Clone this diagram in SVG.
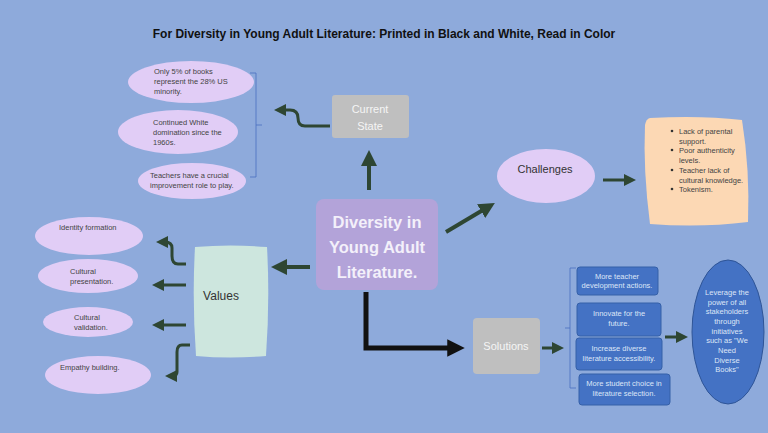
<svg xmlns="http://www.w3.org/2000/svg" width="768" height="433" viewBox="0 0 768 433">
<defs>
<marker id="ah" viewBox="0 0 10 10" refX="5" refY="5" markerWidth="4" markerHeight="4" orient="auto"><path d="M0,0 L10,5 L0,10 z" fill="#2e4633"/></marker>
<marker id="ahk" viewBox="0 0 10 10" refX="5" refY="5" markerWidth="3.5" markerHeight="3.5" orient="auto"><path d="M0,0 L10,5 L0,10 z" fill="#111"/></marker>
<style>
text{font-family:"Liberation Sans","Open Sans",sans-serif}
.el{fill:#e1cdf6}
.et{font-size:7.5px;fill:#444}
.con{stroke:#2e4633;stroke-width:4;fill:none;marker-end:url(#ah)}
.con2{stroke:#2e4633;stroke-width:3;fill:none;marker-end:url(#ah)}
.br{stroke:#4a6fc0;stroke-width:0.8;fill:none}
.bb{fill:#4472c4;stroke:#3560a8;stroke-width:1}
.bt{font-size:7.5px;fill:#dde6f7;text-anchor:middle}
</style>
</defs>
<rect width="768" height="433" fill="#8eaadb"/>
<text x="384" y="38" text-anchor="middle" font-size="12" font-weight="bold" fill="#111">For Diversity in Young Adult Literature: Printed in Black and White, Read in Color</text>
<g id="connectors">
<path class="con" d="M369,190 V158"/>
<path class="con2" d="M330,126 H305 Q298,126 298,118 Q298,110 290,110 H280"/>
<path class="br" d="M250,73 H256 V177 H250 M256,125 H262"/>
<path class="con" d="M446,232 L488,207"/>
<path class="con2" d="M603,180 H630"/>
<path class="con" d="M310,267 H279"/>
<path class="con2" d="M186,264 H178 Q172,264 172,256 V248 Q172,242 165,242 H162"/>
<path class="con2" d="M186,285 H158"/>
<path class="con2" d="M186,325 H158"/>
<path class="con2" d="M190,345 H182 Q177,345 177,352 V372 Q177,376 172,376 H171"/>
<path d="M366,292 V348 H456" stroke="#111" stroke-width="5" fill="none" marker-end="url(#ahk)"/>
<path class="con2" d="M542,348 H558"/>
<path class="br" d="M576,268 H570 V388 H576 M570,328 H565"/>
<path class="con2" d="M665,337 H682"/>
</g>
<g id="center"><rect x="316" y="199" width="122" height="91" rx="8" fill="#b3a3d9"/>
<text x="377" y="228" text-anchor="middle" font-size="16.5" font-weight="bold" fill="#f3f0fa">Diversity in</text>
<text x="377" y="253" text-anchor="middle" font-size="16.5" font-weight="bold" fill="#f3f0fa">Young Adult</text>
<text x="377" y="278" text-anchor="middle" font-size="16.5" font-weight="bold" fill="#f3f0fa">Literature.</text></g>
<g id="current"><rect x="332" y="95" width="77" height="43" rx="3" fill="#bfbfbf"/>
<text x="370" y="113" text-anchor="middle" font-size="11" fill="#f5f5f5">Current</text>
<text x="370" y="130" text-anchor="middle" font-size="11" fill="#f5f5f5">State</text></g>
<g id="cs1"><ellipse class="el" cx="191" cy="82" rx="63" ry="21"/>
<text class="et" x="154" y="74">Only 5% of books</text><text class="et" x="154" y="84">represent the 28% US</text><text class="et" x="154" y="94">minority.</text></g>
<g id="cs2"><ellipse class="el" cx="178" cy="132" rx="60" ry="22"/>
<text class="et" x="153" y="125">Continued White</text><text class="et" x="153" y="135">domination since the</text><text class="et" x="153" y="145">1960s.</text></g>
<g id="cs3"><ellipse class="el" cx="192" cy="181" rx="54" ry="18"/>
<text class="et" x="150" y="178">Teachers have a crucial</text><text class="et" x="150" y="188">improvement role to play.</text></g>
<g id="challenges"><ellipse cx="546" cy="176" rx="49" ry="27" fill="#e1cdf6"/>
<text x="545" y="173" text-anchor="middle" font-size="11" fill="#333">Challenges</text></g>
<g id="challenge-list"><path d="M650,118 Q700,115 742,120 Q750,170 748,222 Q700,228 650,224 Q643,170 645,125 Q646,119 650,118 z" fill="#fcd8b4"/>
<g font-size="7.5" fill="#444"><circle cx="672" cy="131" r="1.3" fill="#333"/><text x="679" y="134">Lack of parental</text><text x="679" y="144">support.</text>
<circle cx="672" cy="150" r="1.3" fill="#333"/><text x="679" y="153">Poor authenticity</text><text x="679" y="163">levels.</text>
<circle cx="672" cy="170" r="1.3" fill="#333"/><text x="679" y="173">Teacher lack of</text><text x="679" y="183">cultural knowledge.</text>
<circle cx="672" cy="189" r="1.3" fill="#333"/><text x="679" y="192">Tokenism.</text></g></g>
<g id="values"><path d="M195,247 Q230,244 267,247 Q270,300 266,356 Q230,359 196,356 Q192,300 195,247 z" fill="#cde6de"/>
<text x="221" y="300" text-anchor="middle" font-size="12" fill="#333">Values</text></g>
<g id="v1"><ellipse class="el" cx="89" cy="236" rx="54" ry="19"/><text class="et" x="59" y="230">Identity formation</text></g>
<g id="v2"><ellipse class="el" cx="88" cy="276" rx="50" ry="17"/><text class="et" x="70" y="274">Cultural</text><text class="et" x="70" y="284">presentation.</text></g>
<g id="v3"><ellipse class="el" cx="88" cy="322" rx="45" ry="15"/><text class="et" x="74" y="320">Cultural</text><text class="et" x="74" y="330">validation.</text></g>
<g id="v4"><ellipse class="el" cx="98" cy="375" rx="53" ry="19"/><text class="et" x="60" y="370">Empathy building.</text></g>
<g id="solutions"><rect x="473" y="318" width="67" height="56" rx="4" fill="#bfbfbf"/>
<text x="506" y="350" text-anchor="middle" font-size="11" fill="#f5f5f5">Solutions</text></g>
<g id="s1"><rect class="bb" x="577" y="267" width="81" height="28" rx="3"/><text class="bt" x="617" y="279">More teacher</text><text class="bt" x="617" y="288">development actions.</text></g>
<g id="s2"><rect class="bb" x="577" y="303" width="84" height="33" rx="3"/><text class="bt" x="619" y="316">Innovate for the</text><text class="bt" x="619" y="326">future.</text></g>
<g id="s3"><rect class="bb" x="576" y="338" width="86" height="32" rx="3"/><text class="bt" x="619" y="351">Increase diverse</text><text class="bt" x="619" y="361">literature accessibility.</text></g>
<g id="s4"><rect class="bb" x="579" y="374" width="91" height="31" rx="3"/><text class="bt" x="624" y="386">More student choice in</text><text class="bt" x="624" y="396">literature selection.</text></g>
<g id="leverage"><ellipse cx="728" cy="332" rx="36" ry="72" fill="#4472c4" stroke="#2f5597" stroke-width="1"/>
<g class="bt"><text x="727" y="295">Leverage the</text><text x="727" y="305">power of all</text><text x="727" y="314">stakeholders</text><text x="727" y="324">through</text><text x="727" y="334">initiatives</text><text x="727" y="343">such as "We</text><text x="727" y="353">Need</text><text x="727" y="363">Diverse</text><text x="727" y="372">Books"</text></g></g>
</svg>
